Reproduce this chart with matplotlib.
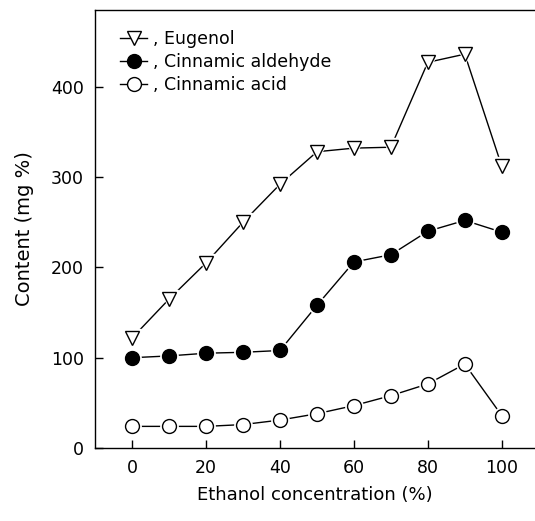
import matplotlib.pyplot as plt

ethanol = [0, 10, 20, 30, 40, 50, 60, 70, 80, 90, 100]
eugenol = [122, 165, 205, 250, 292, 328, 332, 333, 427, 436, 312]
aldehyde = [100, 102, 105, 106, 108, 158, 206, 214, 240, 252, 239]
acid = [24, 24, 24, 26, 31, 38, 47, 58, 71, 93, 36]

plt.rcParams['font.family'] = ['DejaVu Sans']

fig = plt.figure(figsize=(5.35, 5.21), dpi=100)
ax = fig.add_axes([0.178, 0.140, 0.822, 0.841])

series = [
    (eugenol, 'v', 'white', ', Eugenol'),
    (aldehyde, 'o', 'black', ', Cinnamic aldehyde'),
    (acid, 'o', 'white', ', Cinnamic acid'),
]

handles = []
for vals, mk, fc, lab in series:
    ax.plot(ethanol, vals, color='black', lw=1.0, zorder=1)
    # white halo so the line stops short of each marker
    ax.plot(ethanol, vals, ls='none', marker=mk, ms=12.5, mfc='white',
            mec='white', zorder=2)
    ax.plot(ethanol, vals, ls='none', marker=mk, ms=10, mfc=fc,
            mec='black', mew=1.0, zorder=3)
    handles.append(plt.Line2D([], [], color='black', lw=1.0, marker=mk, ms=10,
                              mfc=fc, mec='black', label=lab))

ax.set_xlim(-10, 109)
ax.set_ylim(0, 485)
ax.set_xticks([0, 20, 40, 60, 80, 100])
ax.set_yticks([0, 100, 200, 300, 400])
ax.tick_params(direction='in', length=6, width=1, labelsize=12.5, pad=8)
ax.spines['right'].set_visible(False)
for s in ['left', 'bottom', 'top']:
    ax.spines[s].set_linewidth(1)

ax.set_xlabel('Ethanol concentration (%)', fontsize=13, labelpad=6)
ax.set_ylabel('Content (mg %)', fontsize=14, labelpad=12)

ax.legend(handles=handles, loc='upper left', frameon=False, fontsize=12.5,
          handlelength=1.6, handletextpad=0.3, labelspacing=0.3,
          bbox_to_anchor=(0.02, 0.99))

fig.savefig('out.png', dpi=100)
